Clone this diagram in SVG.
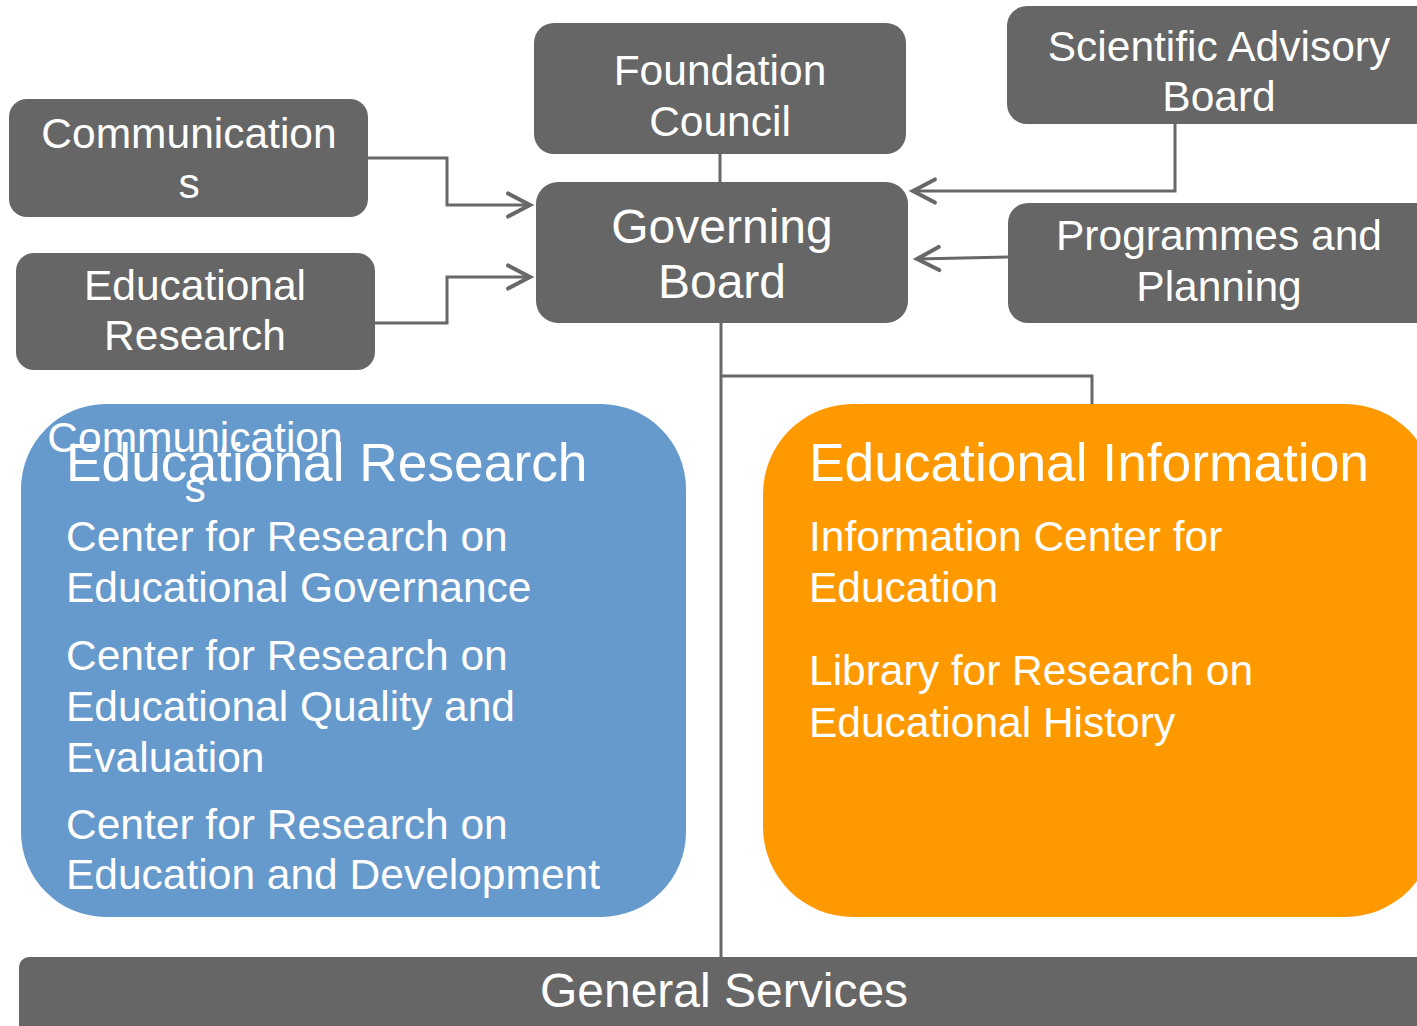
<svg xmlns="http://www.w3.org/2000/svg" width="1417" height="1026" viewBox="0 0 1417 1026">
<style>
  text { font-family: "Liberation Sans", Arial, sans-serif; fill: #ffffff; }
  .box { fill: #666666; }
  .t42 { font-size: 42.5px; }
  .t48 { font-size: 48px; }
  .t53 { font-size: 53.3px; }
  .mid { text-anchor: middle; }
  .conn { fill: none; stroke: #686868; stroke-width: 3; }
</style>
<defs>
  <marker id="arr" markerUnits="userSpaceOnUse" markerWidth="30" markerHeight="30" viewBox="-22 -13 26 26" refX="0" refY="0" orient="auto">
    <path d="M -19 -10 L 0 0 L -19 10" fill="none" stroke="#686868" stroke-width="3.5" stroke-linecap="round" stroke-linejoin="miter"/>
  </marker>
</defs>

<g id="connectors">
  <path class="conn" d="M 720 154 L 720 182"/>
  <path class="conn" d="M 721 323 L 721 957"/>
  <path class="conn" d="M 721 376 L 1092 376 L 1092 404"/>
  <path class="conn" d="M 368 158 L 447 158 L 447 205 L 530 205" marker-end="url(#arr)"/>
  <path class="conn" d="M 375 323 L 447 323 L 447 277 L 530 277" marker-end="url(#arr)"/>
  <path class="conn" d="M 1175 124 L 1175 191 L 913 191" marker-end="url(#arr)"/>
  <path class="conn" d="M 1008 257 L 917 259" marker-end="url(#arr)"/>
</g>

<g id="foundation-council">
  <rect class="box" x="534" y="23" width="372" height="131" rx="20"/>
  <text class="t42 mid" x="720" y="85">Foundation</text>
  <text class="t42 mid" x="720" y="136">Council</text>
</g>

<g id="scientific-advisory-board">
  <rect class="box" x="1007" y="6" width="430" height="118" rx="20"/>
  <text class="t42 mid" x="1219" y="61">Scientific Advisory</text>
  <text class="t42 mid" x="1219" y="111">Board</text>
</g>

<g id="communications">
  <rect class="box" x="9" y="99" width="359" height="118" rx="18"/>
  <text class="t42 mid" x="189" y="148">Communication</text>
  <text class="t42 mid" x="189" y="198">s</text>
</g>

<g id="educational-research-box">
  <rect class="box" x="16" y="253" width="359" height="117" rx="18"/>
  <text class="t42 mid" x="195" y="300">Educational</text>
  <text class="t42 mid" x="195" y="350">Research</text>
</g>

<g id="governing-board">
  <rect class="box" x="536" y="182" width="372" height="141" rx="22"/>
  <text class="t48 mid" x="722" y="243">Governing</text>
  <text class="t48 mid" x="722" y="298">Board</text>
</g>

<g id="programmes-planning">
  <rect class="box" x="1008" y="203" width="429" height="120" rx="20"/>
  <text class="t42 mid" x="1219" y="250">Programmes and</text>
  <text class="t42 mid" x="1219" y="301">Planning</text>
</g>

<g id="educational-research-dept">
  <rect x="21" y="404" width="665" height="513" rx="85" fill="#6699cc"/>
  <text class="t53" x="66" y="481">Educational Research</text>
  <text class="t42" x="66" y="551">Center for Research on</text>
  <text class="t42" x="66" y="602">Educational Governance</text>
  <text class="t42" x="66" y="670">Center for Research on</text>
  <text class="t42" x="66" y="721">Educational Quality and</text>
  <text class="t42" x="66" y="772">Evaluation</text>
  <text class="t42" x="66" y="839">Center for Research on</text>
  <text class="t42" x="66" y="889">Education and Development</text>
  <text class="t42 mid" x="195" y="452">Communication</text>
  <text class="t42 mid" x="195" y="502">s</text>
</g>

<g id="educational-information">
  <rect x="763" y="404" width="672" height="513" rx="90" fill="#ff9900"/>
  <text class="t53" x="809" y="481">Educational Information</text>
  <text class="t42" x="809" y="551">Information Center for</text>
  <text class="t42" x="809" y="602">Education</text>
  <text class="t42" x="809" y="685">Library for Research on</text>
  <text class="t42" x="809" y="737">Educational History</text>
</g>

<g id="general-services">
  <rect class="box" x="19" y="957" width="1418" height="90" rx="10"/>
  <text class="t48 mid" x="724" y="1007">General Services</text>
</g>
</svg>
